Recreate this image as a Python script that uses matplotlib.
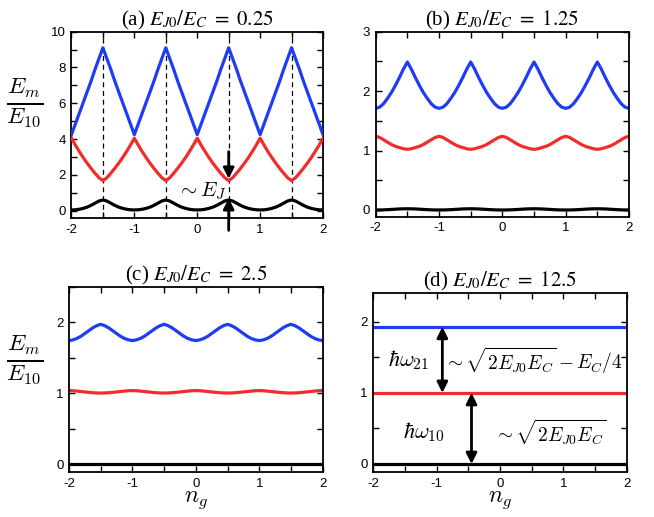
import numpy as np
import matplotlib
matplotlib.use("Agg")
import matplotlib.pyplot as plt
from matplotlib.ticker import MultipleLocator

plt.rcParams["font.family"] = ["Liberation Sans", "DejaVu Sans"]
plt.rcParams["mathtext.fontset"] = "stix"
plt.rcParams["axes.unicode_minus"] = False

# gate charge grid, step 1/16
ng = np.linspace(-2, 2, 65)
ng_ends = [-2, 2]

# (a) EJ0/EC = 0.25
a_blue = [4.25, 4.85, 5.45, 6.05, 6.65, 7.25, 7.9, 8.5, 9.1, 8.5, 7.9, 7.25, 6.65, 6.05, 5.45, 4.85,
          4.25, 4.85, 5.45, 6.05, 6.65, 7.25, 7.9, 8.5, 9.1, 8.5, 7.9, 7.25, 6.65, 6.05, 5.45, 4.85,
          4.25, 4.85, 5.45, 6.05, 6.65, 7.25, 7.9, 8.5, 9.1, 8.5, 7.9, 7.25, 6.65, 6.05, 5.45, 4.85,
          4.25, 4.85, 5.45, 6.05, 6.65, 7.25, 7.9, 8.5, 9.1, 8.5, 7.9, 7.25, 6.65, 6.05, 5.45, 4.85,
          4.25]
a_red = [4.05, 3.66, 3.3, 2.96, 2.65, 2.36, 2.09, 1.84, 1.68, 1.84, 2.09, 2.36, 2.65, 2.96, 3.3, 3.66,
         4.05, 3.66, 3.3, 2.96, 2.65, 2.36, 2.09, 1.84, 1.68, 1.84, 2.09, 2.36, 2.65, 2.96, 3.3, 3.66,
         4.05, 3.66, 3.3, 2.96, 2.65, 2.36, 2.09, 1.84, 1.68, 1.84, 2.09, 2.36, 2.65, 2.96, 3.3, 3.66,
         4.05, 3.66, 3.3, 2.96, 2.65, 2.36, 2.09, 1.84, 1.68, 1.84, 2.09, 2.36, 2.65, 2.96, 3.3, 3.66,
         4.05]
a_black = [0.04, 0.05, 0.08, 0.13, 0.2, 0.3, 0.42, 0.54, 0.6, 0.54, 0.42, 0.3, 0.2, 0.13, 0.08, 0.05,
           0.04, 0.05, 0.08, 0.13, 0.2, 0.3, 0.42, 0.54, 0.6, 0.54, 0.42, 0.3, 0.2, 0.13, 0.08, 0.05,
           0.04, 0.05, 0.08, 0.13, 0.2, 0.3, 0.42, 0.54, 0.6, 0.54, 0.42, 0.3, 0.2, 0.13, 0.08, 0.05,
           0.04, 0.05, 0.08, 0.13, 0.2, 0.3, 0.42, 0.54, 0.6, 0.54, 0.42, 0.3, 0.2, 0.13, 0.08, 0.05,
           0.04]

# (b) EJ0/EC = 1.25
b_blue = [1.71, 1.73, 1.79, 1.88, 1.98, 2.1, 2.23, 2.37, 2.49, 2.37, 2.23, 2.1, 1.98, 1.88, 1.79, 1.73,
          1.71, 1.73, 1.79, 1.88, 1.98, 2.1, 2.23, 2.37, 2.49, 2.37, 2.23, 2.1, 1.98, 1.88, 1.79, 1.73,
          1.71, 1.73, 1.79, 1.88, 1.98, 2.1, 2.23, 2.37, 2.49, 2.37, 2.23, 2.1, 1.98, 1.88, 1.79, 1.73,
          1.71, 1.73, 1.79, 1.88, 1.98, 2.1, 2.23, 2.37, 2.49, 2.37, 2.23, 2.1, 1.98, 1.88, 1.79, 1.73,
          1.71]
b_red = [1.24, 1.22, 1.18, 1.14, 1.1, 1.07, 1.05, 1.03, 1.02, 1.03, 1.05, 1.07, 1.1, 1.14, 1.18, 1.22,
         1.24, 1.22, 1.18, 1.14, 1.1, 1.07, 1.05, 1.03, 1.02, 1.03, 1.05, 1.07, 1.1, 1.14, 1.18, 1.22,
         1.24, 1.22, 1.18, 1.14, 1.1, 1.07, 1.05, 1.03, 1.02, 1.03, 1.05, 1.07, 1.1, 1.14, 1.18, 1.22,
         1.24, 1.22, 1.18, 1.14, 1.1, 1.07, 1.05, 1.03, 1.02, 1.03, 1.05, 1.07, 1.1, 1.14, 1.18, 1.22,
         1.24]
b_black = [0.0, 0.0, 0.002, 0.005, 0.009, 0.013, 0.017, 0.019, 0.02, 0.019, 0.017, 0.013, 0.009, 0.005, 0.002, 0.0,
           0.0, 0.0, 0.002, 0.005, 0.009, 0.013, 0.017, 0.019, 0.02, 0.019, 0.017, 0.013, 0.009, 0.005, 0.002, 0.0,
           0.0, 0.0, 0.002, 0.005, 0.009, 0.013, 0.017, 0.019, 0.02, 0.019, 0.017, 0.013, 0.009, 0.005, 0.002, 0.0,
           0.0, 0.0, 0.002, 0.005, 0.009, 0.013, 0.017, 0.019, 0.02, 0.019, 0.017, 0.013, 0.009, 0.005, 0.002, 0.0,
           0.0]

# (c) EJ0/EC = 2.5
c_blue = [1.74, 1.75, 1.77, 1.8, 1.84, 1.88, 1.92, 1.95, 1.97, 1.95, 1.92, 1.88, 1.84, 1.8, 1.77, 1.75,
          1.74, 1.75, 1.77, 1.8, 1.84, 1.88, 1.92, 1.95, 1.97, 1.95, 1.92, 1.88, 1.84, 1.8, 1.77, 1.75,
          1.74, 1.75, 1.77, 1.8, 1.84, 1.88, 1.92, 1.95, 1.97, 1.95, 1.92, 1.88, 1.84, 1.8, 1.77, 1.75,
          1.74, 1.75, 1.77, 1.8, 1.84, 1.88, 1.92, 1.95, 1.97, 1.95, 1.92, 1.88, 1.84, 1.8, 1.77, 1.75,
          1.74]
c_red = [1.035, 1.033, 1.028, 1.022, 1.016, 1.01, 1.005, 1.002, 1.0, 1.002, 1.005, 1.01, 1.016, 1.022, 1.028, 1.033,
         1.035, 1.033, 1.028, 1.022, 1.016, 1.01, 1.005, 1.002, 1.0, 1.002, 1.005, 1.01, 1.016, 1.022, 1.028, 1.033,
         1.035, 1.033, 1.028, 1.022, 1.016, 1.01, 1.005, 1.002, 1.0, 1.002, 1.005, 1.01, 1.016, 1.022, 1.028, 1.033,
         1.035, 1.033, 1.028, 1.022, 1.016, 1.01, 1.005, 1.002, 1.0, 1.002, 1.005, 1.01, 1.016, 1.022, 1.028, 1.033,
         1.035]
c_black = [0.0, 0.0]

# (d) EJ0/EC = 12.5 (flat bands)
d_blue = [1.93, 1.93]
d_red = [1.0, 1.0]
d_black = [0.0, 0.0]

titles = [r"(a) $E_{J0}/E_C\ =\ 0.25$", r"(b) $E_{J0}/E_C\ =\ 1.25$",
          r"(c) $E_{J0}/E_C\ =\ 2.5$", r"(d) $E_{J0}/E_C\ =\ 12.5$"]
half_ng = [-1.5, -0.5, 0.5, 1.5]

BLUE = "#1e3cf5"
RED = "#f22b2b"
LW = 2.3

fig = plt.figure(figsize=(6.54, 5.17), dpi=100)
ax_a = fig.add_axes([0.1093, 0.5783, 0.3846, 0.3604])
ax_b = fig.add_axes([0.5745, 0.5809, 0.3873, 0.3578])
ax_c = fig.add_axes([0.1055, 0.0870, 0.3878, 0.3585])
ax_d = fig.add_axes([0.5708, 0.0870, 0.3875, 0.3468])


def style(ax, title, ylim, ymaj, ymin):
    ax.set_xlim(-2, 2)
    ax.set_ylim(*ylim)
    ax.xaxis.set_major_locator(MultipleLocator(1))
    ax.xaxis.set_minor_locator(MultipleLocator(0.5))
    ax.yaxis.set_major_locator(MultipleLocator(ymaj))
    ax.yaxis.set_minor_locator(MultipleLocator(ymin))
    ax.tick_params(which="both", direction="in", top=True, right=True,
                   length=4, width=1, labelsize=9.5, pad=4)
    for s in ax.spines.values():
        s.set_linewidth(1.3)
    ax.set_title(title, fontsize=15, family="Liberation Serif", pad=4)


# ---- (a)
for x in half_ng:
    ax_a.axvline(x, color="k", ls=(0, (4, 3)), lw=0.9, zorder=1)
ax_a.plot(ng, a_blue, color=BLUE, lw=LW, zorder=3)
ax_a.plot(ng, a_red, color=RED, lw=LW, zorder=3)
ax_a.plot(ng, a_black, color="k", lw=LW, zorder=3)
style(ax_a, titles[0], (-0.41, 10), 2, 1)
ax_a.annotate("", xy=(0.5, 1.78), xytext=(0.5, 3.3),
              arrowprops=dict(arrowstyle="-|>", color="k", lw=2, mutation_scale=16,
                              shrinkA=0, shrinkB=0), zorder=4)
ax_a.annotate("", xy=(0.5, 0.7), xytext=(0.5, -1.1), annotation_clip=False,
              arrowprops=dict(arrowstyle="-|>", color="k", lw=2, mutation_scale=16,
                              shrinkA=0, shrinkB=0), zorder=4)
ax_a.text(0.08, 1.1, r"$\sim E_J$", fontsize=15, ha="center", va="center",
          math_fontfamily="cm")

# ---- (b)
ax_b.plot(ng, b_blue, color=BLUE, lw=LW)
ax_b.plot(ng, b_red, color=RED, lw=LW)
ax_b.plot(ng, b_black, color="k", lw=LW)
style(ax_b, titles[1], (-0.113, 3), 1, 0.5)

# ---- (c)
ax_c.plot(ng, c_blue, color=BLUE, lw=LW)
ax_c.plot(ng, c_red, color=RED, lw=LW)
ax_c.plot(ng_ends, c_black, color="k", lw=LW)
style(ax_c, titles[2], (-0.113, 2.5), 1, 0.5)

# ---- (d)
ax_d.plot(ng_ends, d_blue, color=BLUE, lw=LW)
ax_d.plot(ng_ends, d_red, color=RED, lw=LW)
ax_d.plot(ng_ends, d_black, color="k", lw=LW)
style(ax_d, titles[3], (-0.113, 2.41), 1, 0.5)
ax_d.annotate("", xy=(-0.91, 1.93), xytext=(-0.91, 1.0),
              arrowprops=dict(arrowstyle="<|-|>", color="k", lw=2, mutation_scale=16,
                              shrinkA=0, shrinkB=0))
ax_d.annotate("", xy=(-0.45, 1.0), xytext=(-0.45, 0.0),
              arrowprops=dict(arrowstyle="<|-|>", color="k", lw=2, mutation_scale=16,
                              shrinkA=0, shrinkB=0))
ax_d.text(-1.45, 1.46, r"$\hbar\omega_{21}$", fontsize=16, ha="center", va="center",
          math_fontfamily="cm")
ax_d.text(0.52, 1.46, r"$\sim \sqrt{2E_{J0}E_C} - E_C/4$", fontsize=14, ha="center",
          va="center", math_fontfamily="cm")
ax_d.text(-1.2, 0.45, r"$\hbar\omega_{10}$", fontsize=16, ha="center", va="center",
          math_fontfamily="cm")
ax_d.text(0.79, 0.45, r"$\sim \sqrt{2E_{J0}E_C}$", fontsize=14, ha="center", va="center",
          math_fontfamily="cm")

# shared labels
for yc in (0.80, 0.304):
    fig.text(0.038, yc, r"$\frac{E_m}{E_{10}}$", fontsize=24, ha="center", va="center",
             math_fontfamily="cm")
for xc in (0.2994, 0.7645):
    fig.text(xc, 0.029, r"$n_g$", fontsize=17, ha="center", va="baseline",
             math_fontfamily="cm")

fig.savefig("out.png", dpi=100)
